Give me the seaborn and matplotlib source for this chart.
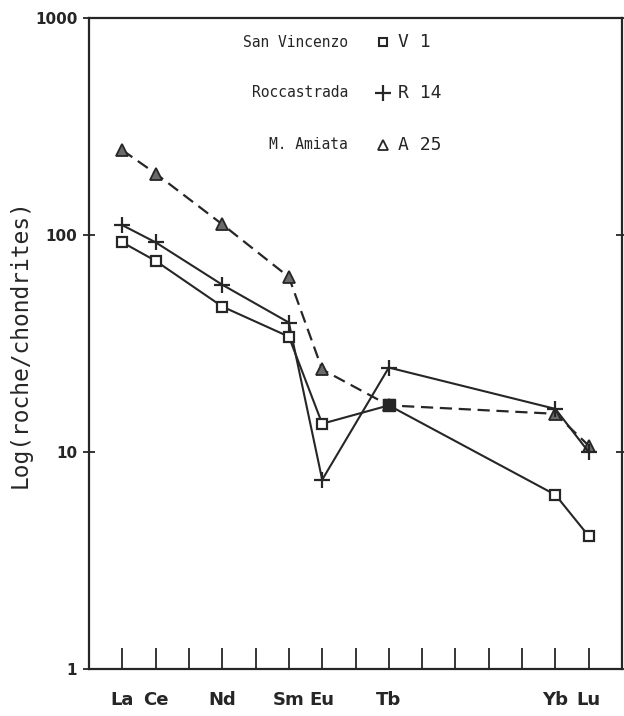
import numpy as np
import pandas as pd
import matplotlib
matplotlib.use("Agg")
import matplotlib.pyplot as plt
import seaborn as sns

# ---- data ----
elements = ["La", "Ce", "Pr", "Nd", "Pm", "Sm", "Eu", "Gd", "Tb", "Dy", "Ho", "Er", "Tm", "Yb", "Lu"]
shown_labels = ["La", "Ce", "Nd", "Sm", "Eu", "Tb", "Yb", "Lu"]
measured = ["La", "Ce", "Nd", "Sm", "Eu", "Tb", "Yb", "Lu"]

san_vincenzo = [92.5, 76, 46.8, 34, 13.5, 16.4, 6.35, 4.1]
roccastrada = [111, 92.5, 59, 39.5, 7.45, 24.5, 15.8, 10.0]
amiata = [246, 192, 112, 64, 24, 16.4, 15, 10.7]

names = ["San Vincenzo", "Roccastrada", "M. Amiata"]
codes = ["V 1", "R 14", "A 25"]
y_ticks = [1, 10, 100, 1000]

sns.set_theme(style="white")
plt.rcParams["font.family"] = ["DejaVu Sans"]

fig = plt.figure(figsize=(6.24, 7.16), dpi=100)
ax = fig.add_axes([89 / 624, 1 - 669 / 716, 533 / 624, 651 / 716])

pos = {e: i + 1 for i, e in enumerate(elements)}
xs = [pos[e] for e in measured]

ink = "#262626"
df_sv = pd.DataFrame({"x": xs, "y": san_vincenzo})
df_ro = pd.DataFrame({"x": xs, "y": roccastrada})
df_am = pd.DataFrame({"x": xs, "y": amiata})

sns.lineplot(data=df_am, x="x", y="y", ax=ax, color=ink, lw=1.6,
             linestyle=(0, (5.5, 3)), marker="^", markersize=9,
             markerfacecolor="#6a6a6a", markeredgecolor=ink, markeredgewidth=1.3)
sns.lineplot(data=df_ro, x="x", y="y", ax=ax, color=ink, lw=1.5,
             marker="+", markersize=12, markeredgewidth=1.6, markeredgecolor=ink)
sns.lineplot(data=df_sv, x="x", y="y", ax=ax, color=ink, lw=1.5,
             marker="s", markersize=7, markerfacecolor="white",
             markeredgecolor=ink, markeredgewidth=1.6)
# coincident point (Tb) drawn filled
tb = measured.index("Tb")
ax.plot([xs[tb]], [san_vincenzo[tb]], marker="s", markersize=9, color=ink, ls="none")

ax.set_yscale("log")
ax.set_ylim(1, 1000)
ax.set_xlim(0, len(elements) + 1)
ax.set_yticks(y_ticks)
ax.set_yticklabels([str(v) for v in y_ticks])
ax.yaxis.set_minor_locator(matplotlib.ticker.NullLocator())
ax.set_xticks(list(range(1, len(elements) + 1)))
ax.set_xticklabels([e if e in shown_labels else "" for e in elements])

for s in ax.spines.values():
    s.set_color(ink)
    s.set_linewidth(1.6)

ax.tick_params(axis="x", direction="in", length=15, width=1.3, color=ink, pad=16,
               labelsize=13, labelcolor=ink, bottom=True)
ax.tick_params(axis="y", which="major", direction="inout", length=9, width=1.3, color=ink,
               left=True, right=True, labelsize=11, labelcolor=ink, pad=4)
for lab in ax.get_xticklabels():
    lab.set_fontweight("bold")
for lab in ax.get_yticklabels():
    lab.set_fontweight("bold")

ax.set_xlabel("")
ax.set_ylabel("Log(roche/chondrites)", family=["DejaVu Sans Mono"], fontsize=16.5,
              color=ink, labelpad=2)

# legend block
rows = [0.963, 0.885, 0.805]
mk = [dict(marker="s", markersize=6, markerfacecolor="white", markeredgewidth=1.5),
      dict(marker="+", markersize=11, markeredgewidth=1.6),
      dict(marker="^", markersize=7, markerfacecolor="white", markeredgewidth=1.3)]
for yy, nm, cd, m in zip(rows, names, codes, mk):
    ax.text(0.486, yy, nm, transform=ax.transAxes, ha="right", va="center",
            family="DejaVu Sans Mono", fontsize=10.5, color=ink)
    ax.plot([0.552], [yy], transform=ax.transAxes, color=ink, ls="none", **m)
    ax.text(0.58, yy, cd, transform=ax.transAxes, ha="left", va="center",
            family="DejaVu Sans Mono", fontsize=13, color=ink)

fig.savefig("out.png", dpi=100, facecolor="white")
